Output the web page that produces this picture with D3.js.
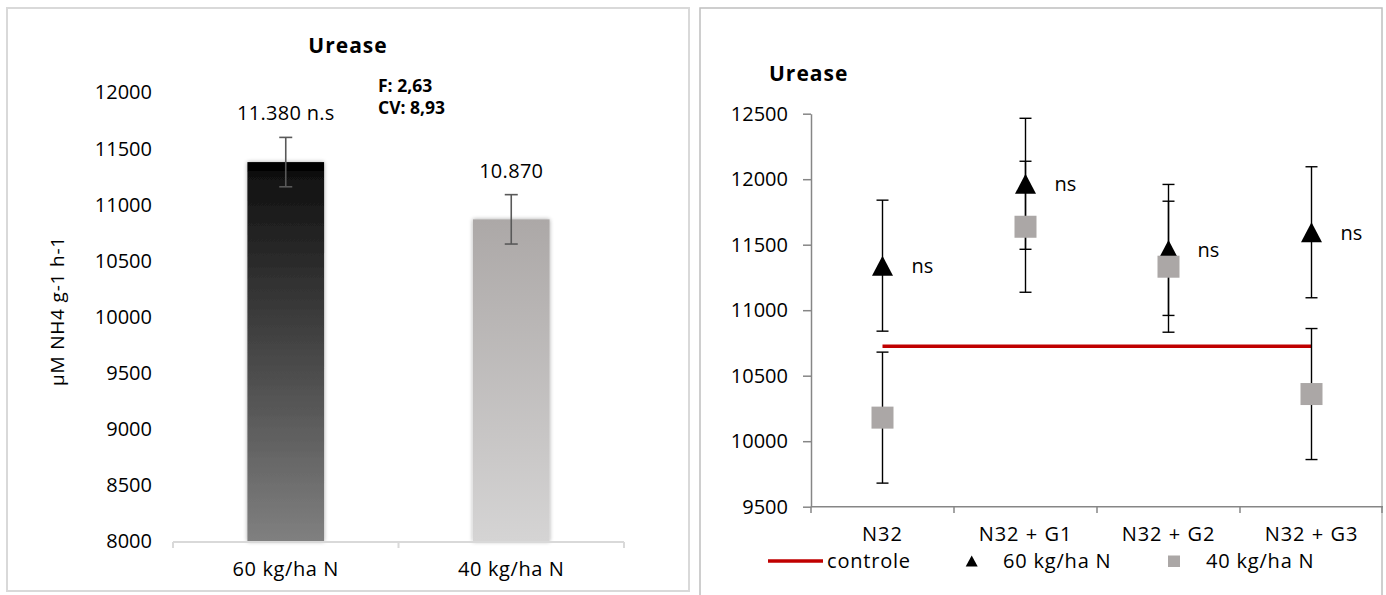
<!DOCTYPE html>
<html>
<head>
<meta charset="utf-8">
<script src="https://cdn.jsdelivr.net/npm/d3@7"></script>
<style>
  html, body { margin: 0; padding: 0; background: #fff; }
  svg { display: block; font-family: "Open Sans", "Liberation Sans", sans-serif; }
</style>
</head>
<body>
<svg id="chart" width="1386" height="595"></svg>
<script>
// ---- Left panel: mean urease activity per N rate ----
const rateCategories = ["60 kg/ha N", "40 kg/ha N"];
const rateMeans = [11380, 10870];
const rateErrors = [220, 220];
const rateLabels = ["11.380 n.s", "10.870"];
const rateTicks = [8000, 8500, 9000, 9500, 10000, 10500, 11000, 11500, 12000];
const statsLines = ["F: 2,63", "CV: 8,93"];

// ---- Right panel: urease per treatment ----
const treatments = ["N32", "N32 + G1", "N32 + G2", "N32 + G3"];
const urease60 = [11340, 11965, 11460, 11595];
const urease40 = [10180, 11637, 11332, 10360];
const error60 = [500, 500, 500, 500];
const error40 = [500, 500, 500, 500];
const controleValue = 10725;
const signif60 = ["ns", "ns", "ns", "ns"];
const treatTicks = [9500, 10000, 10500, 11000, 11500, 12000, 12500];

const svg = d3.select("#chart");
const defs = svg.append("defs");

// bar gradients
const g1 = defs.append("linearGradient").attr("id", "barDark").attr("x1", 0).attr("y1", 0).attr("x2", 0).attr("y2", 1);
[[0, "#000"], [0.02, "#000"], [0.03, "#101010"], [1, "#808080"]].forEach(([o, c]) => g1.append("stop").attr("offset", o).attr("stop-color", c));
const g2 = defs.append("linearGradient").attr("id", "barLight").attr("x1", 0).attr("y1", 0).attr("x2", 0).attr("y2", 1);
[[0, "#aca8a7"], [1, "#d5d4d4"]].forEach(([o, c]) => g2.append("stop").attr("offset", o).attr("stop-color", c));
const shadow = defs.append("filter").attr("id", "soft").attr("x", "-20%").attr("y", "-5%").attr("width", "140%").attr("height", "110%");
shadow.append("feGaussianBlur").attr("in", "SourceAlpha").attr("stdDeviation", 2).attr("result", "b");
shadow.append("feComponentTransfer").attr("in", "b").attr("result", "b2")
  .append("feFuncA").attr("type", "linear").attr("slope", 0.35);
const merge = shadow.append("feMerge");
merge.append("feMergeNode").attr("in", "b2");
merge.append("feMergeNode").attr("in", "SourceGraphic");

// panel frames
svg.append("rect").attr("x", 7).attr("y", 8).attr("width", 682).attr("height", 583)
  .attr("fill", "none").attr("stroke", "#d9d9d9").attr("stroke-width", 2);
svg.append("rect").attr("x", 700).attr("y", 8).attr("width", 682).attr("height", 600)
  .attr("fill", "none").attr("stroke", "#bfbfbf").attr("stroke-width", 1.5);

// ================= LEFT PANEL =================
const L = svg.append("g");
const xL = d3.scaleBand().domain(rateCategories).range([173, 624]).padding(0);
const yL = d3.scaleLinear().domain([8000, 12000]).range([541.5, 92.5]);
const barW = xL.bandwidth() * 0.34;

L.append("text").attr("x", 348).attr("y", 53).attr("text-anchor", "middle")
  .attr("font-size", 21).attr("font-weight", "bold").attr("letter-spacing", 1).attr("fill", "#000").text("Urease");

// y tick labels (no axis line)
const axL = d3.axisLeft(yL).tickValues(rateTicks).tickSize(0).tickPadding(0).tickFormat(d3.format("d"));
const axLG = L.append("g").attr("transform", "translate(152,0)").call(axL);
axLG.select(".domain").remove();
axLG.selectAll("text").attr("font-size", 20).attr("fill", "#000").attr("font-family", "Open Sans");

// y title
L.append("text").attr("transform", "translate(57,311) rotate(-90)").attr("text-anchor", "middle")
  .attr("dominant-baseline", "central").attr("font-size", 19).attr("letter-spacing", 0.8).attr("fill", "#000")
  .text("µM NH4 g-1 h-1");

// bars
L.selectAll("rect.bar").data(rateCategories).join("rect").attr("class", "bar")
  .attr("x", d => xL(d) + xL.bandwidth() / 2 - barW / 2)
  .attr("y", (d, i) => yL(rateMeans[i]))
  .attr("width", barW)
  .attr("height", (d, i) => yL(8000) - yL(rateMeans[i]))
  .attr("fill", (d, i) => i === 0 ? "url(#barDark)" : "url(#barLight)")
  .attr("filter", "url(#soft)");

// error bars
const errL = L.selectAll("g.err").data(rateCategories).join("g").attr("class", "err")
  .attr("stroke", "#595959").attr("stroke-width", 1.6);
errL.append("line").attr("x1", d => xL(d) + xL.bandwidth() / 2).attr("x2", d => xL(d) + xL.bandwidth() / 2)
  .attr("y1", (d, i) => yL(rateMeans[i] + rateErrors[i])).attr("y2", (d, i) => yL(rateMeans[i] - rateErrors[i]));
[1, -1].forEach(s => {
  errL.append("line").attr("x1", d => xL(d) + xL.bandwidth() / 2 - 6.5).attr("x2", d => xL(d) + xL.bandwidth() / 2 + 6.5)
    .attr("y1", (d, i) => yL(rateMeans[i] + s * rateErrors[i])).attr("y2", (d, i) => yL(rateMeans[i] + s * rateErrors[i]));
});

// value labels
L.selectAll("text.val").data(rateCategories).join("text").attr("class", "val")
  .attr("x", d => xL(d) + xL.bandwidth() / 2)
  .attr("y", (d, i) => yL(rateMeans[i] + rateErrors[i]) - 17)
  .attr("text-anchor", "middle").attr("font-size", 20).attr("letter-spacing", 0.3).attr("fill", "#000")
  .text((d, i) => rateLabels[i]);

// F / CV
L.selectAll("text.stat").data(statsLines).join("text").attr("class", "stat")
  .attr("x", 378).attr("y", (d, i) => 92 + i * 22)
  .attr("font-size", 17.5).attr("font-weight", "bold").attr("fill", "#000").text(d => d);

// x axis: line with ticks at category boundaries
const xAxL = L.append("g").attr("stroke", "#d9d9d9").attr("stroke-width", 2);
xAxL.append("line").attr("x1", xL.range()[0]).attr("x2", xL.range()[1]).attr("y1", 542).attr("y2", 542);
const bL = rateCategories.map(c => xL(c)).concat([xL.range()[1]]);
xAxL.selectAll("line.tk").data(bL).join("line").attr("class", "tk")
  .attr("x1", d => d).attr("x2", d => d).attr("y1", 542).attr("y2", 548);
L.selectAll("text.cat").data(rateCategories).join("text").attr("class", "cat")
  .attr("x", d => xL(d) + xL.bandwidth() / 2).attr("y", 576)
  .attr("text-anchor", "middle").attr("font-size", 20).attr("letter-spacing", 0.6).attr("fill", "#000").text(d => d);

// ================= RIGHT PANEL =================
const R = svg.append("g");
const xR = d3.scaleBand().domain(treatments).range([811, 1383]).padding(0);
const yR = d3.scaleLinear().domain([9500, 12500]).range([506.7, 113.7]);
const cx = d => xR(d) + xR.bandwidth() / 2;

R.append("text").attr("x", 769).attr("y", 80.5).attr("font-size", 21).attr("font-weight", "bold")
  .attr("letter-spacing", 1).attr("fill", "#000").text("Urease");

const axR = d3.axisLeft(yR).tickValues(treatTicks).tickSize(8).tickSizeOuter(0).tickPadding(15).tickFormat(d3.format("d"));
const axRG = R.append("g").attr("transform", "translate(811,0)").call(axR);
axRG.select(".domain").attr("stroke", "#868686").attr("stroke-width", 1.5);
axRG.selectAll(".tick line").attr("stroke", "#868686").attr("stroke-width", 1.5);
axRG.selectAll("text").attr("font-size", 20).attr("fill", "#000").attr("font-family", "Open Sans");

const xAxR = R.append("g").attr("stroke", "#868686").attr("stroke-width", 1.5);
xAxR.append("line").attr("x1", xR.range()[0]).attr("x2", xR.range()[1]).attr("y1", 506.7).attr("y2", 506.7);
const bR = treatments.map(c => xR(c)).concat([xR.range()[1] - 1]);
xAxR.selectAll("line.tk").data(bR).join("line").attr("class", "tk")
  .attr("x1", d => d).attr("x2", d => d).attr("y1", 506.7).attr("y2", 513);
R.selectAll("text.cat").data(treatments).join("text").attr("class", "cat")
  .attr("x", d => cx(d)).attr("y", 541).attr("text-anchor", "middle")
  .attr("font-size", 20).attr("letter-spacing", 1).attr("fill", "#000").text(d => d);

// control line spanning first to last treatment
R.append("line").attr("x1", cx(treatments[0])).attr("x2", cx(treatments[treatments.length - 1]))
  .attr("y1", yR(controleValue)).attr("y2", yR(controleValue))
  .attr("stroke", "#c00000").attr("stroke-width", 3.5);

function errorBars(values, errors) {
  const g = R.append("g").attr("stroke", "#000").attr("stroke-width", 1.4);
  treatments.forEach((t, i) => {
    const x = cx(t), hi = yR(values[i] + errors[i]), lo = yR(values[i] - errors[i]);
    g.append("line").attr("x1", x).attr("x2", x).attr("y1", hi).attr("y2", lo);
    g.append("line").attr("x1", x - 6).attr("x2", x + 6).attr("y1", hi).attr("y2", hi);
    g.append("line").attr("x1", x - 6).attr("x2", x + 6).attr("y1", lo).attr("y2", lo);
  });
}

// 60 kg/ha N: triangles
errorBars(urease60, error60);
const tri = d3.symbol().type(d3.symbolTriangle).size(1);
R.selectAll("path.tri").data(treatments).join("path").attr("class", "tri")
  .attr("d", "M0,-10L10.5,10L-10.5,10Z")
  .attr("transform", (d, i) => `translate(${cx(d)},${yR(urease60[i])})`)
  .attr("fill", "#000");

// 40 kg/ha N: squares
errorBars(urease40, error40);
R.selectAll("rect.sq").data(treatments).join("rect").attr("class", "sq")
  .attr("x", d => cx(d) - 11).attr("y", (d, i) => yR(urease40[i]) - 11)
  .attr("width", 22).attr("height", 22).attr("fill", "#aba7a6");

// significance labels
R.selectAll("text.ns").data(treatments).join("text").attr("class", "ns")
  .attr("x", d => cx(d) + 29).attr("y", (d, i) => yR(urease60[i]))
  .attr("dominant-baseline", "central").attr("font-size", 20).attr("fill", "#000")
  .text((d, i) => signif60[i]);

// legend
const leg = R.append("g");
leg.append("line").attr("x1", 768).attr("x2", 823).attr("y1", 561).attr("y2", 561)
  .attr("stroke", "#c00000").attr("stroke-width", 3.5);
leg.append("text").attr("x", 827).attr("y", 568).attr("font-size", 20).attr("letter-spacing", 0.8).attr("fill", "#000").text("controle");
leg.append("path").attr("d", "M0,-5.5L6,5.5L-6,5.5Z").attr("transform", "translate(971.7,561)").attr("fill", "#000");
leg.append("text").attr("x", 1003).attr("y", 568).attr("font-size", 20).attr("letter-spacing", 0.8).attr("fill", "#000").text("60 kg/ha N");
leg.append("rect").attr("x", 1168).attr("y", 555.5).attr("width", 12).attr("height", 11.5).attr("fill", "#aba7a6");
leg.append("text").attr("x", 1206).attr("y", 568).attr("font-size", 20).attr("letter-spacing", 0.8).attr("fill", "#000").text("40 kg/ha N");
</script>
</body>
</html>
